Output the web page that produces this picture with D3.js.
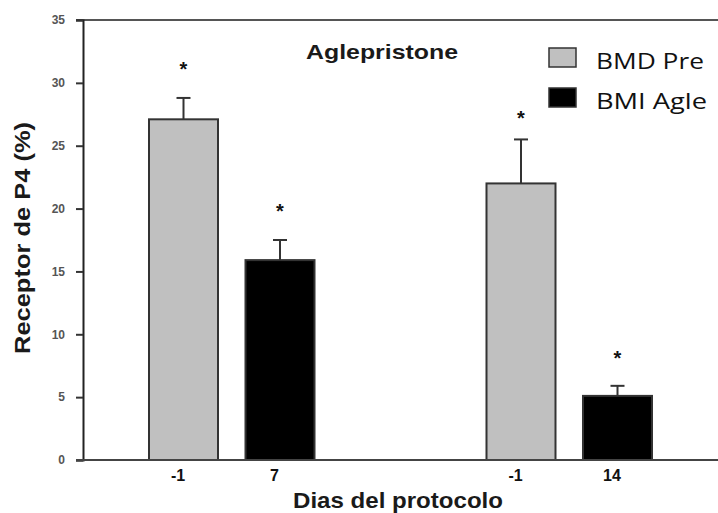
<!DOCTYPE html>
<html>
<head>
<meta charset="utf-8">
<script src="https://cdn.jsdelivr.net/npm/d3@7"></script>
<style>
  body { margin: 0; background: #fff; }
  svg { display: block; }
</style>
</head>
<body>
<div id="chart"></div>
<script>
// data
const groups = ["A", "B"];
const series = ["BMD Pre", "BMI Agle"];
const tickLabels = ["-1", "7", "-1", "14"];
const means = [27.1, 15.9, 22.0, 5.1];
const errors = [1.7, 1.6, 3.5, 0.8];
const starAt = [31.3, 20.0, 27.4, 8.3];
const yTicks = [0, 5, 10, 15, 20, 25, 30, 35];
const colors = ["#c0c0c0", "#000000"];

const W = 718, H = 513;
const plotL = 83, plotR = 718, plotT = 20, plotB = 460;

const svg = d3.select("#chart").append("svg")
    .attr("width", W)
    .attr("height", H);

const y = d3.scaleLinear().domain([0, 35]).range([plotB, plotT]);

const x0 = d3.scaleBand().domain(groups).range([plotL, plotR])
    .paddingInner(0.4).paddingOuter((0.4 - 0.1185) / 2);
const x1 = d3.scaleBand().domain(series).range([0, x0.bandwidth()])
    .paddingInner(0.285).paddingOuter(0.1917);

const bars = means.map((v, i) => ({
    id: "b" + i,
    group: groups[Math.floor(i / 2)],
    serie: series[i % 2],
    value: v,
    err: errors[i],
    star: starAt[i],
    label: tickLabels[i]
}));
const xPos = d => x0(d.group) + x1(d.serie);
const xMid = d => xPos(d) + x1.bandwidth() / 2;

// frame line at the top
svg.append("line").attr("x1", 76).attr("x2", plotR).attr("y1", y(35)).attr("y2", y(35))
    .attr("stroke", "#555").attr("stroke-width", 2);

// bars
svg.selectAll("rect.bar").data(bars).enter().append("rect")
    .attr("class", "bar")
    .attr("x", xPos)
    .attr("y", d => y(d.value))
    .attr("width", x1.bandwidth())
    .attr("height", d => y(0) - y(d.value))
    .attr("fill", d => colors[series.indexOf(d.serie)])
    .attr("stroke", "#333")
    .attr("stroke-width", 2);

// error bars (upper only)
const eb = svg.selectAll("g.err").data(bars).enter().append("g")
    .attr("class", "err")
    .attr("stroke", "#333").attr("stroke-width", 2);
eb.append("line")
    .attr("x1", xMid).attr("x2", xMid)
    .attr("y1", d => y(d.value)).attr("y2", d => y(d.value + d.err));
eb.append("line")
    .attr("x1", d => xMid(d) - 7).attr("x2", d => xMid(d) + 7)
    .attr("y1", d => y(d.value + d.err)).attr("y2", d => y(d.value + d.err));

// significance stars
svg.selectAll("text.star").data(bars).enter().append("text")
    .attr("class", "star")
    .attr("x", xMid)
    .attr("y", d => y(d.star) + 9)
    .attr("text-anchor", "middle")
    .attr("font-family", "Arial, 'Liberation Sans', sans-serif")
    .attr("font-weight", "bold")
    .attr("font-size", 20)
    .attr("fill", "#111")
    .text("*");

// y axis
const yAxis = svg.append("g")
    .attr("transform", "translate(" + plotL + ",0)")
    .call(d3.axisLeft(y).tickValues(yTicks).tickSize(7).tickPadding(11));
yAxis.select(".domain").attr("stroke", "#222").attr("stroke-width", 2);
yAxis.selectAll(".tick line").attr("stroke", "#333").attr("stroke-width", 2);
yAxis.selectAll(".tick text")
    .attr("font-family", "Arial, 'Liberation Sans', sans-serif")
    .attr("font-weight", "bold")
    .attr("font-size", 12)
    .attr("fill", "#555");

// x axis
const xTick = d3.scaleOrdinal(bars.map(d => d.id), bars.map(xMid));
const xAxis = svg.append("g")
    .attr("transform", "translate(0," + plotB + ")")
    .call(d3.axisBottom(xTick).tickSize(0).tickPadding(10)
        .tickFormat(id => bars.find(b => b.id === id).label));
xAxis.select(".domain").remove();
xAxis.selectAll(".tick text")
    .attr("dx", -6)
    .attr("font-family", "Arial, 'Liberation Sans', sans-serif")
    .attr("font-weight", "bold")
    .attr("font-size", 16)
    .attr("fill", "#111");
svg.append("line").attr("x1", 76).attr("x2", plotR).attr("y1", plotB).attr("y2", plotB)
    .attr("stroke", "#444").attr("stroke-width", 2);

// axis titles
svg.append("text")
    .attr("x", 398).attr("y", 508)
    .attr("text-anchor", "middle")
    .attr("font-family", "Arial, 'Liberation Sans', sans-serif")
    .attr("font-weight", "bold")
    .attr("font-size", 22)
    .attr("textLength", 210)
    .attr("lengthAdjust", "spacingAndGlyphs")
    .attr("fill", "#1a1a1a")
    .text("Dias del protocolo");

svg.append("text")
    .attr("transform", "translate(30,238) rotate(-90)")
    .attr("text-anchor", "middle")
    .attr("font-family", "Arial, 'Liberation Sans', sans-serif")
    .attr("font-weight", "bold")
    .attr("font-size", 22)
    .attr("textLength", 232)
    .attr("lengthAdjust", "spacingAndGlyphs")
    .attr("fill", "#1a1a1a")
    .text("Receptor de P4 (%)");

// panel title
svg.append("text")
    .attr("x", 306).attr("y", 59)
    .attr("font-family", "Arial, 'Liberation Sans', sans-serif")
    .attr("font-weight", "bold")
    .attr("font-size", 21)
    .attr("textLength", 152)
    .attr("lengthAdjust", "spacingAndGlyphs")
    .attr("fill", "#1a1a1a")
    .text("Aglepristone");

// legend
const legend = svg.append("g").attr("transform", "translate(549,48)");
const li = legend.selectAll("g").data(series).enter().append("g")
    .attr("transform", (d, i) => "translate(0," + i * 40 + ")");
li.append("rect")
    .attr("width", 27).attr("height", 19)
    .attr("fill", (d, i) => colors[i])
    .attr("stroke", "#333").attr("stroke-width", 1.5);
li.append("text")
    .attr("x", 47).attr("y", 21)
    .attr("font-family", "'Open Sans', 'Noto Sans', sans-serif")
    .attr("font-size", 22)
    .attr("textLength", (d, i) => i === 0 ? 108 : 111)
    .attr("lengthAdjust", "spacingAndGlyphs")
    .attr("fill", "#111")
    .text(d => d);
</script>
</body>
</html>
